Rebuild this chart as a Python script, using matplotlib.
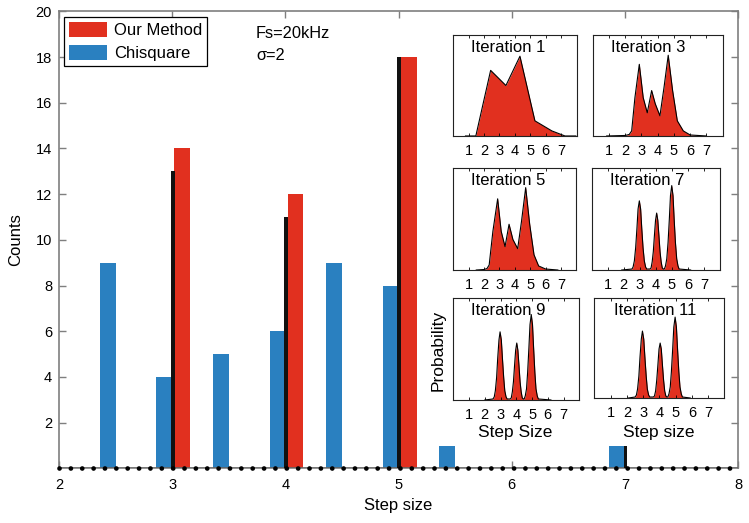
import numpy as np
import matplotlib.pyplot as plt

# main histogram: step size vs counts
chi_x = [2.43, 2.93, 3.43, 3.93, 4.43, 4.93, 5.43, 6.93]
chi_counts = [9, 4, 5, 6, 9, 8, 1, 1]
our_x = [3.09, 4.09, 5.09]
our_counts = [14, 12, 18]
true_x = [3.005, 4.005, 5.005, 7.005]
true_counts = [13, 11, 18, 1]

# inset distributions (probability vs step size)
it1_x = [0.8, 1.47, 2.43, 3.42, 4.33, 5.3, 6.4, 7.25, 7.95]
it1_y = [0.0, 0.0, 0.65, 0.50, 0.79, 0.15, 0.05, 0.0, 0.0]

it3_x = [0.86, 2.0, 2.25, 2.40, 2.60, 2.87, 3.11, 3.36, 3.63, 3.85, 4.14, 4.39,
         4.65, 4.92, 5.21, 5.58, 6.0, 7.0]
it3_y = [0.0, 0.005, 0.015, 0.05, 0.38, 0.71, 0.38, 0.23, 0.45, 0.32, 0.20, 0.48,
         0.80, 0.45, 0.15, 0.05, 0.01, 0.0]

it5_x = [1.5, 2.0, 2.2, 2.34, 2.58, 2.89, 3.12, 3.37, 3.63, 3.88, 4.19, 4.44,
         4.71, 4.97, 5.25, 5.55, 6.0, 6.8]
it5_y = [0.0, 0.005, 0.015, 0.05, 0.38, 0.70, 0.38, 0.23, 0.45, 0.30, 0.21, 0.48,
         0.81, 0.45, 0.15, 0.04, 0.01, 0.0]

it7_x = [1.87,
         2.51, 2.58, 2.66, 2.74, 2.82, 2.89, 2.97, 3.05, 3.12, 3.20, 3.28, 3.36, 3.43,
         3.63, 3.70, 3.77, 3.84, 3.91, 3.98, 4.05, 4.12, 4.19, 4.26, 4.33, 4.40, 4.47,
         4.53, 4.60, 4.68, 4.76, 4.84, 4.91, 4.99, 5.07, 5.14, 5.22, 5.30, 5.38, 5.45,
         6.17]
it7_y = [0.0,
         0.01, 0.03, 0.09, 0.22, 0.41, 0.60, 0.68, 0.60, 0.41, 0.22, 0.09, 0.03, 0.01,
         0.01, 0.02, 0.08, 0.18, 0.34, 0.49, 0.56, 0.49, 0.34, 0.18, 0.08, 0.02, 0.01,
         0.01, 0.04, 0.11, 0.27, 0.50, 0.73, 0.83, 0.73, 0.50, 0.27, 0.11, 0.04, 0.01,
         0.0]

it9_x = [2.0,
         2.52, 2.60, 2.67, 2.75, 2.82, 2.90, 2.97, 3.05, 3.12, 3.20, 3.27, 3.35, 3.42,
         3.61, 3.68, 3.75, 3.82, 3.89, 3.96, 4.03, 4.10, 4.17, 4.24, 4.31, 4.38, 4.45,
         4.50, 4.57, 4.65, 4.72, 4.80, 4.87, 4.95, 5.03, 5.10, 5.18, 5.25, 5.33, 5.40,
         6.2]
it9_y = [0.0,
         0.01, 0.03, 0.09, 0.22, 0.41, 0.59, 0.67, 0.59, 0.41, 0.22, 0.09, 0.03, 0.01,
         0.01, 0.02, 0.08, 0.18, 0.34, 0.49, 0.56, 0.49, 0.34, 0.18, 0.08, 0.02, 0.01,
         0.01, 0.04, 0.11, 0.27, 0.51, 0.74, 0.84, 0.74, 0.51, 0.27, 0.11, 0.04, 0.01,
         0.0]

it11_x = [2.1,
          2.51, 2.59, 2.66, 2.74, 2.81, 2.89, 2.96, 3.04, 3.11, 3.19, 3.26, 3.34, 3.41,
          3.63, 3.70, 3.77, 3.84, 3.91, 3.98, 4.05, 4.12, 4.19, 4.26, 4.33, 4.40, 4.47,
          4.52, 4.59, 4.67, 4.74, 4.82, 4.89, 4.97, 5.05, 5.12, 5.20, 5.27, 5.35, 5.42,
          5.9]
it11_y = [0.0,
          0.01, 0.03, 0.09, 0.22, 0.41, 0.59, 0.67, 0.59, 0.41, 0.22, 0.09, 0.03, 0.01,
          0.01, 0.02, 0.07, 0.18, 0.33, 0.49, 0.55, 0.49, 0.33, 0.18, 0.07, 0.02, 0.01,
          0.01, 0.04, 0.11, 0.26, 0.49, 0.71, 0.81, 0.71, 0.49, 0.26, 0.11, 0.04, 0.01,
          0.0]

red = '#e1301f'
blue = '#2a80c0'
grey = '#7f7f7f'

plt.rcParams['font.family'] = ['Liberation Sans', 'DejaVu Sans']

fig = plt.figure(figsize=(7.49, 5.23), dpi=100)
ax = fig.add_axes([0.0788, 0.1044, 0.9065, 0.874])

b_chi = ax.bar(chi_x, chi_counts, width=0.14, color=blue, zorder=2)
b_our = ax.bar(our_x, our_counts, width=0.14, color=red, zorder=2)
ax.bar(true_x, true_counts, width=0.032, color='#111111', zorder=3)

# dotted baseline
ax.axhline(0, color='k', lw=1.0, zorder=4)
ax.axhline(0, color='k', lw=3.4, ls=(0, (0.01, 8.148 / 3.4)),
           dash_capstyle='round', zorder=5, clip_on=False)

ax.set_xlim(2, 8)
ax.set_ylim(0, 20)
ax.set_xticks(range(2, 9))
ax.set_yticks(range(2, 21, 2))
ax.tick_params(direction='in', length=5, width=1, color=grey, labelsize=10.5,
               top=True, right=True)
ax.tick_params(axis='x', pad=7)
ax.tick_params(axis='y', pad=5)
for s in ax.spines.values():
    s.set_color(grey)
    s.set_linewidth(1.2)
ax.set_xlabel('Step size', fontsize=12, labelpad=4)
ax.set_ylabel('Counts', fontsize=12, labelpad=9)

leg = ax.legend([b_our, b_chi], ['Our Method', 'Chisquare'], loc='upper left',
                bbox_to_anchor=(0.007, 0.988), borderaxespad=0, fontsize=12,
                handlelength=2.3, handleheight=1.0, handletextpad=0.4,
                labelspacing=0.4, borderpad=0.3, fancybox=False, framealpha=1)
leg.get_frame().set_edgecolor('k')
leg.get_frame().set_linewidth(0.9)

ax.text(3.74, 19.05, 'Fs=20kHz', fontsize=11.8, va='center')
ax.text(3.74, 18.05, 'σ=2', fontsize=11.8, va='center')


def inset(rect, xs, ys, title, tx):
    a = fig.add_axes(rect)
    a.fill_between(xs, ys, color=red, lw=0)
    a.plot(xs, ys, color='k', lw=0.8)
    a.set_xlim(0, 8)
    a.set_ylim(0, 1)
    a.set_xticks(range(1, 8))
    a.set_yticks([])
    a.tick_params(direction='in', length=2, width=0.6, labelsize=10.5, pad=6,
                  top=True)
    for s in a.spines.values():
        s.set_linewidth(0.8)
        s.set_color('#222222')
    a.text(tx, 0.95, title, transform=a.transAxes, ha='center', va='top',
           fontsize=12)
    return a


inset([0.605, 0.740, 0.1648, 0.193], it1_x, it1_y, 'Iteration 1', 0.443)
inset([0.7913, 0.740, 0.1735, 0.193], it3_x, it3_y, 'Iteration 3', 0.427)
inset([0.605, 0.4837, 0.1645, 0.1945], it5_x, it5_y, 'Iteration 5', 0.45)
inset([0.790, 0.4837, 0.1713, 0.1945], it7_x, it7_y, 'Iteration 7', 0.43)
inset([0.6052, 0.2352, 0.1682, 0.1945], it9_x, it9_y, 'Iteration 9', 0.437)
inset([0.7935, 0.239, 0.1736, 0.191], it11_x, it11_y, 'Iteration 11', 0.467)

fig.text(438 / 749, 1 - 350 / 523, 'Probability', rotation=90, ha='center',
         va='center', fontsize=12.5)
fig.text(515 / 749, 1 - 433 / 523, 'Step Size', ha='center', va='center',
         fontsize=12.5)
fig.text(659 / 749, 1 - 432 / 523, 'Step size', ha='center', va='center',
         fontsize=12.5)

fig.savefig('out.png', dpi=100)
